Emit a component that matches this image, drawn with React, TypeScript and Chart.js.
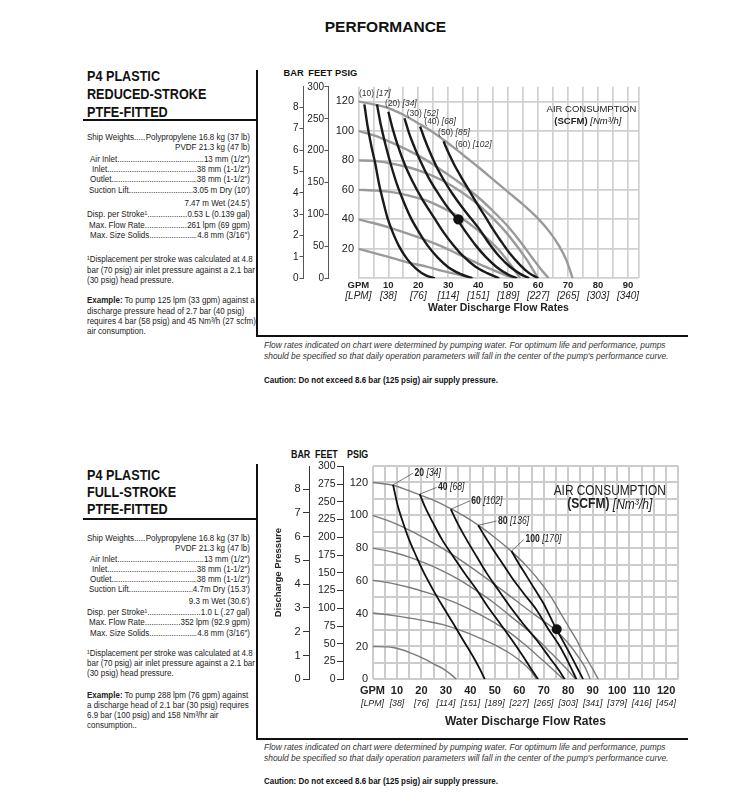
import React, { useEffect, useRef } from "react";
import { Chart, registerables } from "chart.js";

Chart.register(...registerables);

type Pt = [number, number];

const REG = '"Liberation Sans", Arial, Helvetica, sans-serif';

const PSI_MAX = 130;
const FT_PER_PSI = 2.31;
const BAR_PER_PSI = 1 / 14.5;

// ---------------- TOP CHART (reduced stroke) ----------------
const TOP_GPM_TICKS = [0, 10, 20, 30, 40, 50, 60, 70, 80, 90];
const TOP_GPM_LABELS = ["GPM", "10", "20", "30", "40", "50", "60", "70", "80", "90"];
const TOP_LPM_LABELS = ["[LPM]", "[38]", "[76]", "[114]", "[151]", "[189]", "[227]", "[265]", "[303]", "[340]"];
const TOP_X_GRID = [0, 5, 10, 15, 20, 25, 30, 35, 40, 45, 50, 55, 60, 65, 70, 75, 80, 85, 90, 93.5];
const TOP_X_MAX = 93.5;
const TOP_PSI_GRID = [0, 10, 20, 30, 40, 50, 60, 70, 80, 90, 100, 110, 120, 130];
const TOP_PSI_LABELS = [20, 40, 60, 80, 100, 120];
const TOP_FEET_TICKS = [0, 50, 100, 150, 200, 250, 300];
const TOP_BAR_TICKS = [0, 1, 2, 3, 4, 5, 6, 7, 8];

// air inlet pressure curves (psig) : [gpm, discharge psig]
const TOP_AIR_120: Pt[] = [[0, 120], [5, 118], [10, 115.5], [15, 111], [20.6, 104.5], [25, 99], [28.4, 94], [32, 88.5], [36, 82], [40, 75.5], [45, 67], [50, 58.5], [55, 50], [60, 40.5], [64, 31], [67, 22], [69.5, 12], [71.5, 0]];
const TOP_AIR_100: Pt[] = [[0, 100], [6, 96.5], [11.7, 91.5], [17, 86.5], [22.8, 80], [28, 73], [34, 64.5], [40, 55], [45, 45.5], [50, 35], [54, 25], [58, 14], [61, 6], [63.5, 0]];
const TOP_AIR_80: Pt[] = [[0, 80], [6, 79.5], [12, 77.5], [17.3, 75], [23, 71], [28.4, 66], [34, 59], [40, 50], [44, 42.5], [48.5, 33], [52.5, 23], [56.3, 12.3], [58.5, 5], [60, 0]];
const TOP_AIR_60: Pt[] = [[0, 60], [6, 59.5], [11.7, 58.3], [17, 56], [22.8, 52.7], [27, 49], [31.7, 44], [35, 40], [39.6, 33], [43.5, 26], [47.4, 18], [50.5, 10], [53, 3], [54, 0]];
const TOP_AIR_40: Pt[] = [[0, 40], [5, 37.5], [11.7, 33.6], [17, 30], [22.8, 25.8], [28, 21.5], [34, 15.7], [40, 10], [45, 5.6], [49, 2.2], [52, 0]];
const TOP_AIR_20: Pt[] = [[0, 20], [5, 17.3], [11.7, 13.5], [17, 10.5], [22.8, 7.9], [28, 5], [34, 2.2], [38.5, 0]];
const TOP_AIR_CURVES = [TOP_AIR_120, TOP_AIR_100, TOP_AIR_80, TOP_AIR_60, TOP_AIR_40, TOP_AIR_20];

// air consumption curves (scfm)
const TOP_SCFM_10: Pt[] = [[2, 118], [3, 104], [4.3, 90], [5.6, 78], [7, 63], [8.3, 52], [9.7, 41], [11.3, 32], [13.5, 22], [16.3, 13], [19.5, 6], [22.5, 2], [25.5, 0]];
const TOP_SCFM_20: Pt[] = [[6.2, 118], [7.5, 104], [9, 91], [11, 76], [13, 63], [15, 52.5], [17.5, 41], [20, 32], [23, 22.5], [26.5, 14], [30, 7.5], [34, 3], [38, 0]];
const TOP_SCFM_30: Pt[] = [[10, 113], [11.5, 101], [13, 91], [15.5, 77], [18, 66], [21.2, 54], [25.3, 41], [28.5, 31], [31.5, 23], [35, 15], [39, 8], [43, 3.5], [47, 0]];
const TOP_SCFM_40: Pt[] = [[15.4, 108.6], [17, 98], [18.7, 89], [20.8, 79], [23.5, 68], [26.2, 59], [29.3, 49.5], [32.6, 41], [36, 31], [39.3, 22], [42.5, 14.5], [46.2, 7.5], [50, 2.5], [53, 0]];
const TOP_SCFM_50: Pt[] = [[20.6, 103], [22, 95], [24, 85], [26.5, 74], [29, 65], [31.5, 57], [34.5, 48.5], [37.8, 40], [40.5, 33], [43.5, 24], [47, 15], [50.5, 8], [54, 3], [57, 0]];
const TOP_SCFM_60: Pt[] = [[28.4, 93], [30, 85.5], [32, 77], [34.5, 68], [37, 59.5], [39.5, 51], [42.6, 41], [45, 33], [47.5, 25.5], [50.5, 17], [54, 9], [57, 3.5], [60, 0]];
const TOP_SCFM_CURVES = [TOP_SCFM_10, TOP_SCFM_20, TOP_SCFM_30, TOP_SCFM_40, TOP_SCFM_50, TOP_SCFM_60];
const TOP_SCFM_NAMES = ["(10)", "(20)", "(30)", "(40)", "(50)", "(60)"];
const TOP_NM3_NAMES = ["[17]", "[34]", "[52]", "[68]", "[85]", "[102]"];
const TOP_LABEL_ANCHORS: Pt[] = [[0.2, 125.4], [8.9, 118.3], [16.1, 111.6], [22, 106.3], [26.6, 99.1], [32.3, 90.7]];
const TOP_EXAMPLE: Pt = [33.4, 40];

// ---------------- BOTTOM CHART (full stroke) ----------------
const BOT_GPM_TICKS = [0, 10, 20, 30, 40, 50, 60, 70, 80, 90, 100, 110, 120];
const BOT_GPM_LABELS = ["GPM", "10", "20", "30", "40", "50", "60", "70", "80", "90", "100", "110", "120"];
const BOT_LPM_LABELS = ["[LPM]", "[38]", "[76]", "[114]", "[151]", "[189]", "[227]", "[265]", "[303]", "[341]", "[379]", "[416]", "[454]"];
const BOT_X_GRID = [0, 5, 10, 15, 20, 25, 30, 35, 40, 45, 50, 55, 60, 65, 70, 75, 80, 85, 90, 95, 100, 105, 110, 115, 120, 125];
const BOT_X_MAX = 125;
const BOT_PSI_GRID = [0, 10, 20, 30, 40, 50, 60, 70, 80, 90, 100, 110, 120, 130];
const BOT_PSI_LABELS = [0, 20, 40, 60, 80, 100, 120];
const BOT_FEET_TICKS = [0, 25, 50, 75, 100, 125, 150, 175, 200, 225, 250, 275, 300];
const BOT_BAR_TICKS = [0, 1, 2, 3, 4, 5, 6, 7, 8];

const BOT_AIR_120: Pt[] = [[0, 120], [8.4, 118.3], [14, 115.5], [19.3, 112.5], [26, 108.5], [32, 104], [38, 99], [43.2, 94], [50, 86.5], [56.8, 78], [63, 69], [69.8, 57], [73.5, 49], [76.6, 41], [80, 32.5], [83.4, 24], [86, 16.5], [88.2, 11], [90.5, 5], [92.3, 0]];
const BOT_AIR_100: Pt[] = [[0, 100], [8.4, 95.5], [15, 91], [22, 85.5], [29, 79.5], [35.7, 73], [42.5, 66], [49.3, 58.5], [56, 51], [63, 43], [69, 36.5], [75.2, 29.5], [80, 22], [84, 14], [87, 7], [89, 0]];
const BOT_AIR_80: Pt[] = [[0, 80], [8.4, 77.5], [15, 74.5], [22, 70.5], [28.8, 66], [35.7, 60.5], [42.5, 54], [49.3, 47], [56, 39], [63, 30.5], [68, 23.5], [73, 16], [77, 10], [80.5, 4.5], [83, 0]];
const BOT_AIR_60: Pt[] = [[0, 60.5], [8, 58.5], [15.2, 56], [22, 53], [28.8, 49.6], [35.7, 45.5], [42.5, 40.5], [49.3, 35], [56.1, 28.5], [62, 21.5], [67, 15], [71.5, 9], [75.5, 3.5], [78, 0]];
const BOT_AIR_40: Pt[] = [[0, 40.4], [8, 39], [15.2, 37.3], [22, 35.5], [28.8, 33.3], [35.7, 30], [42.5, 26], [49.3, 21.5], [56.1, 15.9], [61, 10.5], [64.5, 5.5], [67, 0]];
const BOT_AIR_20: Pt[] = [[0, 20], [5, 19.8], [8.4, 19.4], [12, 18], [15.2, 16.3], [19, 14], [22, 11.8], [25.5, 9], [28.8, 6.5], [32, 3], [34.3, 0]];
const BOT_AIR_CURVES = [BOT_AIR_120, BOT_AIR_100, BOT_AIR_80, BOT_AIR_60, BOT_AIR_40, BOT_AIR_20];

const BOT_SCFM_20: Pt[] = [[8.4, 118.6], [10.3, 106], [12.5, 95.5], [15, 85], [17.9, 75], [21, 65], [24.7, 54.7], [28.7, 44.5], [32.9, 34.3], [37, 24], [41.1, 13.9], [43.8, 6.5], [45.9, 0]];
const BOT_SCFM_40: Pt[] = [[19.3, 112.9], [21.8, 104], [24.7, 95.5], [28.5, 85], [32.9, 75.1], [37.5, 65], [42.5, 54.7], [47, 44.5], [52, 34.3], [57, 24], [61.6, 13.9], [65, 6], [67.7, 0]];
const BOT_SCFM_60: Pt[] = [[32, 103.7], [35, 94.5], [38.4, 85.3], [42.5, 75], [46.6, 64.9], [51.3, 54.7], [56.1, 44.5], [61.5, 34], [67, 24.1], [72.5, 13], [76, 6], [78.6, 0]];
const BOT_SCFM_80: Pt[] = [[43.2, 93.9], [46.2, 86.5], [49.3, 79.2], [53.4, 70], [57.5, 60.8], [62.2, 51.6], [67, 42.4], [71.7, 31], [76.6, 20], [80, 10.5], [83.4, 0]];
const BOT_SCFM_100: Pt[] = [[56.8, 78.2], [59.8, 70.5], [63, 62.9], [66.4, 54.7], [69.8, 46.5], [72.5, 38.5], [75.2, 30.5], [78, 23], [80.7, 15.5], [83.5, 7.5], [86.1, 0]];
const BOT_SCFM_CURVES = [BOT_SCFM_20, BOT_SCFM_40, BOT_SCFM_60, BOT_SCFM_80, BOT_SCFM_100];
const BOT_SCFM_NAMES = ["20", "40", "60", "80", "100"];
const BOT_NM3_NAMES = ["[34]", "[68]", "[102]", "[136]", "[170]"];
const BOT_LABEL_ANCHORS: Pt[] = [[17.2, 125.7], [26.8, 117], [40.4, 108.8], [51.3, 96.5], [62.5, 85.3]];
const BOT_EXAMPLE: Pt = [75.3, 30.5];

// ---------------- text content ----------------
const TOP_TITLE = ["P4 PLASTIC", "REDUCED-STROKE", "PTFE-FITTED"];
const BOT_TITLE = ["P4 PLASTIC", "FULL-STROKE", "PTFE-FITTED"];
type Spec = { label?: string; value: string };
const TOP_SPECS: Spec[] = [
  { label: "Ship Weights.....", value: "Polypropylene 16.8 kg (37 lb)" },
  { value: "PVDF 21.3 kg (47 lb)" },
  { label: "Air Inlet", value: "13 mm (1/2\")" },
  { label: "Inlet", value: "38 mm (1-1/2\")" },
  { label: "Outlet", value: "38 mm (1-1/2\")" },
  { label: "Suction Lift", value: "3.05 m Dry (10')" },
  { value: "7.47 m Wet (24.5')" },
  { label: "Disp. per Stroke¹", value: "0.53 L (0.139 gal)" },
  { label: "Max. Flow Rate", value: "261 lpm (69 gpm)" },
  { label: "Max. Size Solids", value: "4.8 mm (3/16\")" },
];
const BOT_SPECS: Spec[] = [
  { label: "Ship Weights.....", value: "Polypropylene 16.8 kg (37 lb)" },
  { value: "PVDF 21.3 kg (47 lb)" },
  { label: "Air Inlet", value: "13 mm (1/2\")" },
  { label: "Inlet", value: "38 mm (1-1/2\")" },
  { label: "Outlet", value: "38 mm (1-1/2\")" },
  { label: "Suction Lift", value: "4.7m Dry (15.3')" },
  { value: "9.3 m Wet (30.6')" },
  { label: "Disp. per Stroke¹", value: "1.0 L (.27 gal)" },
  { label: "Max. Flow Rate", value: "352 lpm (92.9 gpm)" },
  { label: "Max. Size Solids", value: "4.8 mm (3/16\")" },
];
const SPEC_INDENT = [87, 87, 90, 92, 90, 89, 87, 87, 89, 90];
const FOOTNOTE = ["¹Displacement per stroke was calculated at 4.8", "bar (70 psig) air inlet pressure against a 2.1 bar", "(30 psig) head pressure."];
const TOP_EXAMPLE_TEXT = [" To pump 125 lpm (33 gpm) against a", "discharge pressure head of 2.7 bar (40 psig)", "requires 4 bar (58 psig) and 45 Nm³/h (27 scfm)", "air consumption."];
const BOT_EXAMPLE_TEXT = [" To pump 288 lpm (76 gpm) against", "a discharge head of 2.1 bar (30 psig) requires", "6.9 bar (100 psig) and 158 Nm³/hr air", "consumption.."];
const CAPTION = ["Flow rates indicated on chart were determined by pumping water. For optimum life and performance, pumps", "should be specified so that daily operation parameters will fall in the center of the pump's performance curve."];
const CAUTION = "Caution: Do not exceed 8.6 bar (125 psig) air supply pressure.";

// ---------------- helpers ----------------
type Part = { text: string; font: string; color?: string };
function drawParts(ctx: CanvasRenderingContext2D, x: number, y: number, parts: Part[], align: "left" | "center", sx = 1) {
  const widths = parts.map((p) => { ctx.font = p.font; return ctx.measureText(p.text).width; });
  const total = widths.reduce((a, b) => a + b, 0);
  const start = align === "center" ? x - (total * sx) / 2 : x;
  ctx.save();
  ctx.translate(start, y);
  ctx.scale(sx, 1);
  ctx.textBaseline = "middle";
  ctx.textAlign = "left";
  let cx = 0;
  parts.forEach((p, i) => {
    ctx.font = p.font;
    ctx.fillStyle = p.color || "#222";
    ctx.fillText(p.text, cx, 0);
    cx += widths[i];
  });
  ctx.restore();
}

function curve(pts: Pt[], color: string, width: number, order: number) {
  return {
    data: pts.map(([x, y]) => ({ x, y })),
    showLine: true,
    borderColor: color,
    borderWidth: width,
    pointRadius: 0,
    pointHoverRadius: 0,
    fill: false,
    cubicInterpolationMode: "monotone",
    order,
  };
}

function dot(p: Pt, r: number) {
  return {
    data: [{ x: p[0], y: p[1] }],
    showLine: false,
    pointRadius: r,
    pointBackgroundColor: "#111",
    pointBorderWidth: 0,
    borderWidth: 0,
    order: 0,
  };
}

function setTicks(values: number[]) {
  return (s: any) => { s.ticks = values.map((v) => ({ value: v })); };
}

function labelFrom(values: number[], labels: string[]) {
  return (v: any) => { const i = values.indexOf(Number(v)); return i >= 0 ? labels[i] : ""; };
}

type AxisDims = {
  barW: number; ftW: number; psiW: number; xH: number; x2H: number;
  tickLen: number; ftPad: number; barPad: number; psiPad: number; xPad: number; x2Pad: number;
};

function buildScales(o: {
  xMax: number; xGrid: number[]; gpmTicks: number[]; gpmLabels: string[]; lpmLabels: string[];
  psiGrid: number[]; psiLabels: number[]; feetTicks: number[]; barTicks: number[];
  dims: AxisDims; gridColor: string; gridWidth: number; axisColor: string;
  gpmFont: any; lpmFont: any; titleFont: any; psiFont: any; ftFont: any; barFont: any;
  barTitle?: { text: string; font: any; pad: number };
}) {
  const d = o.dims;
  return {
    x: {
      type: "linear", position: "bottom", min: 0, max: o.xMax, weight: 0,
      afterBuildTicks: setTicks(o.xGrid),
      afterFit: (s: any) => { s.height = d.xH; },
      grid: { color: o.gridColor, lineWidth: o.gridWidth, drawTicks: false },
      border: { display: false },
      ticks: { autoSkip: false, maxRotation: 0, minRotation: 0, padding: d.xPad, color: "#222", font: o.gpmFont, callback: labelFrom(o.gpmTicks, o.gpmLabels) },
    },
    x2: {
      type: "linear", position: "bottom", min: 0, max: o.xMax, weight: 1,
      afterBuildTicks: setTicks(o.xGrid),
      afterFit: (s: any) => { s.height = d.x2H; },
      grid: { display: false, drawTicks: false },
      border: { display: false },
      ticks: { autoSkip: false, maxRotation: 0, minRotation: 0, padding: d.x2Pad, color: "#222", font: o.lpmFont, callback: labelFrom(o.gpmTicks, o.lpmLabels) },
      title: { display: true, text: "Water Discharge Flow Rates", color: "#222", font: o.titleFont, padding: 0 },
    },
    y: {
      type: "linear", position: "left", min: 0, max: PSI_MAX, weight: 0,
      afterBuildTicks: setTicks(o.psiGrid),
      afterFit: (s: any) => { s.width = d.psiW; },
      grid: { color: o.gridColor, lineWidth: o.gridWidth, drawTicks: false },
      border: { display: false },
      ticks: { padding: d.psiPad, color: "#222", font: o.psiFont, callback: (v: any) => (o.psiLabels.indexOf(Number(v)) >= 0 ? String(v) : "") },
    },
    yFt: {
      type: "linear", position: "left", min: 0, max: PSI_MAX * FT_PER_PSI, weight: 1,
      afterBuildTicks: setTicks(o.feetTicks),
      afterFit: (s: any) => { s.width = d.ftW; },
      grid: { drawOnChartArea: false, drawTicks: true, tickLength: d.tickLen, color: o.axisColor, lineWidth: 1 },
      border: { display: true, color: o.axisColor, width: 1 },
      ticks: { padding: d.ftPad, color: "#222", font: o.ftFont, callback: (v: any) => String(v) },
    },
    yBar: {
      type: "linear", position: "left", min: 0, max: PSI_MAX * BAR_PER_PSI, weight: 2,
      afterBuildTicks: setTicks(o.barTicks),
      afterFit: (s: any) => { s.width = d.barW; },
      grid: { drawOnChartArea: false, drawTicks: true, tickLength: d.tickLen, color: o.axisColor, lineWidth: 1 },
      border: { display: true, color: o.axisColor, width: 1 },
      ticks: { padding: d.barPad, color: "#222", font: o.barFont, callback: (v: any) => String(v) },
      title: o.barTitle
        ? { display: true, text: o.barTitle.text, color: "#222", font: o.barTitle.font, padding: { top: o.barTitle.pad, bottom: 0 } }
        : { display: false },
    },
  };
}

function topConfig(): any {
  const datasets: any[] = [dot(TOP_EXAMPLE, 5.2)];
  TOP_SCFM_CURVES.forEach((c) => datasets.push(curve(c, "#1a1a1a", 2.4, 1)));
  TOP_AIR_CURVES.forEach((c) => datasets.push(curve(c, "#9a9a9a", 2.4, 2)));
  const labels = {
    id: "topLabels",
    afterDatasetsDraw(chart: any) {
      const { ctx, scales } = chart;
      const x = scales.x, y = scales.y;
      TOP_SCFM_NAMES.forEach((n, i) => {
        const [gx, gy] = TOP_LABEL_ANCHORS[i];
        drawParts(ctx, x.getPixelForValue(gx), y.getPixelForValue(gy), [
          { text: n + " ", font: `8.5px ${REG}`, color: "#333" },
          { text: TOP_NM3_NAMES[i], font: `italic 8.5px ${REG}`, color: "#333" },
        ], "left");
      });
      drawParts(ctx, x.getPixelForValue(77.8), y.getPixelForValue(114.3), [{ text: "AIR CONSUMPTION", font: `9.5px ${REG}`, color: "#222" }], "center");
      drawParts(ctx, x.getPixelForValue(76.6), y.getPixelForValue(106.3), [
        { text: "(SCFM) ", font: `bold 9.5px ${REG}`, color: "#222" },
        { text: "[Nm³/h]", font: `italic 9.5px ${REG}`, color: "#222" },
      ], "center");
    },
  };
  return {
    type: "scatter",
    data: { datasets },
    plugins: [labels],
    options: {
      responsive: false, animation: false, events: [],
      layout: { padding: { left: 0, top: 24.7, right: 6.5, bottom: 3.4 } },
      plugins: { legend: { display: false }, tooltip: { enabled: false } },
      scales: buildScales({
        xMax: TOP_X_MAX, xGrid: TOP_X_GRID, gpmTicks: TOP_GPM_TICKS, gpmLabels: TOP_GPM_LABELS, lpmLabels: TOP_LPM_LABELS,
        psiGrid: TOP_PSI_GRID, psiLabels: TOP_PSI_LABELS, feetTicks: TOP_FEET_TICKS, barTicks: TOP_BAR_TICKS,
        dims: { barW: 23, ftW: 25, psiW: 30.4, xH: 12, x2H: 24.3, tickLen: 3.5, ftPad: 0.5, barPad: 1, psiPad: 4.4, xPad: 1, x2Pad: 0 },
        gridColor: "#d0d0d0", gridWidth: 1.7, axisColor: "#555",
        gpmFont: { family: REG, size: 9.5, weight: "bold" },
        lpmFont: { family: REG, size: 10, style: "italic" },
        titleFont: { family: REG, size: 10.5, weight: "bold" },
        psiFont: { family: REG, size: 11 },
        ftFont: { family: REG, size: 10 },
        barFont: { family: REG, size: 10 },
      }),
    },
  };
}

function botConfig(): any {
  const datasets: any[] = [dot(BOT_EXAMPLE, 5)];
  BOT_SCFM_CURVES.forEach((c) => datasets.push(curve(c, "#111111", 1.8, 1)));
  BOT_AIR_CURVES.forEach((c) => datasets.push(curve(c, "#7a7a7a", 1.4, 2)));
  BOT_SCFM_CURVES.forEach((c, i) => {
    const a = BOT_LABEL_ANCHORS[i];
    const leader: Pt[] = [c[0], [a[0] - 0.6, a[1]]];
    datasets.push({ ...curve(leader, "#555555", 0.8, 3), cubicInterpolationMode: "default" });
  });
  const labels = {
    id: "botLabels",
    afterDatasetsDraw(chart: any) {
      const { ctx, scales } = chart;
      const x = scales.x, y = scales.y;
      BOT_SCFM_NAMES.forEach((n, i) => {
        const [gx, gy] = BOT_LABEL_ANCHORS[i];
        drawParts(ctx, x.getPixelForValue(gx), y.getPixelForValue(gy), [
          { text: n + " ", font: `bold 10.5px ${REG}`, color: "#222" },
          { text: BOT_NM3_NAMES[i], font: `italic 10.5px ${REG}`, color: "#222" },
        ], "left", 0.82);
      });
      drawParts(ctx, x.getPixelForValue(97), y.getPixelForValue(115), [{ text: "AIR CONSUMPTION", font: `14.5px ${REG}`, color: "#222" }], "center", 0.82);
      drawParts(ctx, x.getPixelForValue(97), y.getPixelForValue(106.5), [
        { text: "(SCFM) ", font: `bold 14px ${REG}`, color: "#222" },
        { text: "[Nm³/h]", font: `italic 14px ${REG}`, color: "#222" },
      ], "center", 0.86);
    },
  };
  return {
    type: "scatter",
    data: { datasets },
    plugins: [labels],
    options: {
      responsive: false, animation: false, events: [],
      layout: { padding: { left: 0, top: 9, right: 6.7, bottom: 4.1 } },
      plugins: { legend: { display: false }, tooltip: { enabled: false } },
      scales: buildScales({
        xMax: BOT_X_MAX, xGrid: BOT_X_GRID, gpmTicks: BOT_GPM_TICKS, gpmLabels: BOT_GPM_LABELS, lpmLabels: BOT_LPM_LABELS,
        psiGrid: BOT_PSI_GRID, psiLabels: BOT_PSI_LABELS, feetTicks: BOT_FEET_TICKS, barTicks: BOT_BAR_TICKS,
        dims: { barW: 44, ftW: 34, psiW: 29.5, xH: 17, x2H: 32.6, tickLen: 6, ftPad: 1.5, barPad: 2.5, psiPad: 4.5, xPad: 4.8, x2Pad: 1.7 },
        gridColor: "#cccccc", gridWidth: 2, axisColor: "#333",
        gpmFont: { family: REG, size: 11, weight: "bold" },
        lpmFont: { family: REG, size: 8.8, style: "italic" },
        titleFont: { family: REG, size: 12, weight: "bold" },
        psiFont: { family: REG, size: 11 },
        ftFont: { family: REG, size: 10.5 },
        barFont: { family: REG, size: 11 },
        barTitle: { text: "Discharge Pressure", font: { family: REG, size: 9.5, weight: "bold" }, pad: 7.3 },
      }),
    },
  };
}

function ChartBox({ left, top, width, height, make }: { left: number; top: number; width: number; height: number; make: () => any }) {
  const ref = useRef<HTMLCanvasElement>(null);
  useEffect(() => {
    const chart = new Chart(ref.current as HTMLCanvasElement, make());
    return () => chart.destroy();
  }, []);
  return (
    <div style={{ position: "absolute", left, top, width, height }}>
      <canvas ref={ref} width={width} height={height} style={{ width, height, display: "block" }} />
    </div>
  );
}

function Line({ x, y, h = 12, sx = 1, style, children }: { x: number; y: number; h?: number; sx?: number; style?: React.CSSProperties; children: React.ReactNode }) {
  return (
    <div style={{
      position: "absolute", left: x, top: y - h / 2, height: h, lineHeight: `${h}px`, whiteSpace: "nowrap",
      transform: sx !== 1 ? `scaleX(${sx})` : undefined, transformOrigin: "0 50%", ...style,
    }}>
      {children}
    </div>
  );
}

function Rule({ x, y, w, h }: { x: number; y: number; w: number; h: number }) {
  return <div style={{ position: "absolute", left: x, top: y, width: w, height: h, background: "#111" }} />;
}

const SPEC_SX = 0.836;

function SpecRow({ x, y, spec }: { x: number; y: number; spec: Spec }) {
  const shortLead = spec.label !== undefined && spec.label.endsWith(".....");
  return (
    <div style={{
      position: "absolute", left: x, width: (250 - x) / SPEC_SX, top: y - 6, height: 12, lineHeight: "12px", display: "flex",
      whiteSpace: "nowrap", fontFamily: REG, fontSize: 9.6, color: "#222", transform: `scaleX(${SPEC_SX})`, transformOrigin: "0 50%",
    }}>
      {spec.label !== undefined && <span>{spec.label}</span>}
      {spec.label !== undefined && !shortLead && (
        <span style={{ flex: 1, minWidth: 0, overflow: "hidden" }}>{".".repeat(120)}</span>
      )}
      <span style={{ marginLeft: spec.label === undefined || shortLead ? "auto" : 0 }}>{spec.value}</span>
    </div>
  );
}

function LeftColumn({ title, titleY, ruleY, specs, specY, noteY, example, exampleY }: {
  title: string[]; titleY: number[]; ruleY: number; specs: Spec[]; specY: number[]; noteY: number[]; example: string[]; exampleY: number[];
}) {
  const small: React.CSSProperties = { fontFamily: REG, fontSize: 9.2, color: "#222" };
  return (
    <>
      {title.map((t, i) => (
        <Line key={"t" + i} x={87} y={titleY[i]} h={18} sx={0.815} style={{ fontFamily: REG, fontWeight: "bold", fontSize: 15.5, color: "#111" }}>{t}</Line>
      ))}
      <Rule x={83} y={ruleY - 1} w={174} h={2.2} />
      {specs.map((s, i) => <SpecRow key={"s" + i} x={SPEC_INDENT[i]} y={specY[i]} spec={s} />)}
      {FOOTNOTE.map((t, i) => (
        <Line key={"f" + i} x={87} y={noteY[i]} sx={0.87} style={small}>{t}</Line>
      ))}
      {example.map((t, i) => (
        <Line key={"e" + i} x={87} y={exampleY[i]} sx={0.87} style={small}>
          {i === 0 && <b>Example:</b>}{t}
        </Line>
      ))}
    </>
  );
}

function Captions({ y1, y2, y3 }: { y1: number; y2: number; y3: number }) {
  const st: React.CSSProperties = { fontFamily: REG, fontSize: 9.5, fontStyle: "italic", color: "#333" };
  return (
    <>
      <Line x={264} y={y1} sx={0.885} style={st}>{CAPTION[0]}</Line>
      <Line x={264} y={y2} sx={0.885} style={st}>{CAPTION[1]}</Line>
      <Line x={264} y={y3} sx={0.866} style={{ fontFamily: REG, fontSize: 9.2, fontWeight: "bold", color: "#111" }}>{CAUTION}</Line>
    </>
  );
}

export default function App() {
  const topHead: React.CSSProperties = { fontFamily: REG, fontWeight: "bold", fontSize: 9.3, color: "#111" };
  const botHead: React.CSSProperties = { fontFamily: REG, fontWeight: "bold", fontSize: 11, color: "#111" };
  return (
    <div style={{ position: "absolute", left: 0, top: 0, width: 754, height: 801, background: "#fff", overflow: "hidden", fontFamily: REG }}>
      <Line x={0} y={27} h={20} style={{ width: 771, textAlign: "center", fontFamily: REG, fontWeight: "bold", fontSize: 15.5, color: "#111" }}>PERFORMANCE</Line>

      {/* top section */}
      <Rule x={256} y={70} w={2} h={266} />
      <Rule x={256} y={334.5} w={432} h={2} />
      <LeftColumn
        title={TOP_TITLE} titleY={[75.8, 94.2, 111.8]} ruleY={119.5}
        specs={TOP_SPECS} specY={[137.3, 147.3, 158.7, 169, 179.3, 190, 202.5, 213.5, 224.5, 235]}
        noteY={[259.3, 269.5, 279.5]} example={TOP_EXAMPLE_TEXT} exampleY={[300, 310.7, 321, 331]}
      />
      <Line x={283.5} y={72.7} style={topHead}>BAR</Line>
      <Line x={308.3} y={72.7} style={topHead}>FEET</Line>
      <Line x={335} y={72.7} style={topHead}>PSIG</Line>
      <ChartBox left={280} top={62} width={365} height={256} make={topConfig} />
      <Captions y1={345.3} y2={356} y3={380} />

      {/* bottom section */}
      <Rule x={256} y={464} w={2} h={276} />
      <Rule x={256} y={738} w={432} h={2} />
      <LeftColumn
        title={BOT_TITLE} titleY={[475, 491.7, 508.5]} ruleY={518.5}
        specs={BOT_SPECS} specY={[538.3, 548.3, 558.7, 569, 579.3, 589.3, 600.7, 611.7, 622.3, 632.7]}
        noteY={[653.3, 663.3, 673.3]} example={BOT_EXAMPLE_TEXT} exampleY={[695, 705, 715.3, 725.3]}
      />
      <Line x={291} y={453.5} sx={0.81} style={botHead}>BAR</Line>
      <Line x={315} y={453.5} sx={0.81} style={botHead}>FEET</Line>
      <Line x={347.3} y={453.5} sx={0.81} style={botHead}>PSIG</Line>
      <ChartBox left={265} top={455} width={420} height={278} make={botConfig} />
      <Captions y1={747} y2={758.3} y3={780.5} />
    </div>
  );
}
